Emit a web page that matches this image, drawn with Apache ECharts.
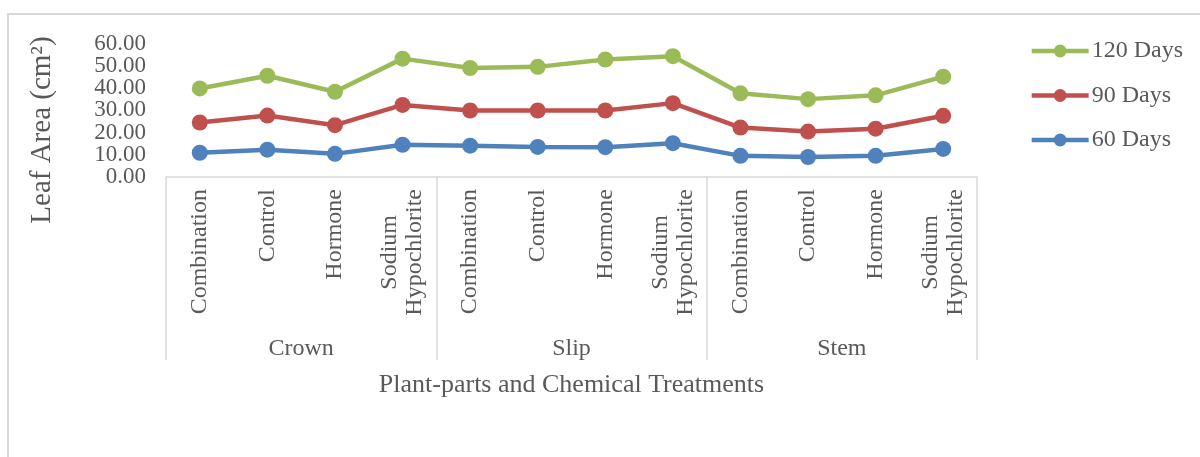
<!DOCTYPE html>
<html>
<head>
<meta charset="utf-8">
<title>Leaf Area</title>
<script src="https://cdn.jsdelivr.net/npm/echarts@6/dist/echarts.min.js"></script>
<style>
  html, body { margin: 0; padding: 0; background: #ffffff; }
  #chart { width: 1200px; height: 457px; }
</style>
</head>
<body>
<div id="chart"></div>
<script>
// Plant parts (outer category level) and chemical treatments (inner level)
const plantParts = ['Crown', 'Slip', 'Stem'];
const treatments = ['Combination', 'Control', 'Hormone', 'Sodium\nHypochlorite'];
const categories = plantParts.flatMap(() => treatments);

// Leaf area (cm²) per treatment, in category order: Crown ×4, Slip ×4, Stem ×4
const days120 = [39.8, 45.5, 38.3, 53.2, 49.0, 49.5, 52.8, 54.3, 37.6, 35.0, 36.7, 45.1];
const days90  = [24.5, 27.6, 23.3, 32.4, 29.9, 29.9, 29.9, 33.2, 22.2, 20.4, 21.7, 27.5];
const days60  = [10.9, 12.3, 10.4, 14.5, 14.1, 13.5, 13.4, 15.2,  9.5,  9.0,  9.5, 12.6];

// Value-axis tick labels, split over two stacked label rows so the
// tightly packed 23px labels are all kept
const yTicksEven = [0, 20, 40, 60];
const yTicksOdd = [10, 30, 50];
const yRange = { min: 0, max: 60 };

const FONT = '"Liberation Serif", "Times New Roman", serif';
const TEXT = '#595959';
const RULE = '#d9d9d9';

const chart = echarts.init(document.getElementById('chart'), null, { renderer: 'canvas' });

function lineSeries(name, data, color) {
  return {
    name: name,
    type: 'line',
    data: data,
    xAxisIndex: 0,
    yAxisIndex: 0,
    symbol: 'circle',
    symbolSize: 16,
    lineStyle: { color: color, width: 4.5 },
    itemStyle: { color: color },
    emphasis: { disabled: true },
    animation: false
  };
}

function valueAxis(ticks) {
  return {
    type: 'value',
    position: 'left',
    offset: 0,
    min: yRange.min,
    max: yRange.max,
    interval: 10,
    axisLine: { show: false },
    axisTick: { show: false },
    splitLine: { show: false },
    axisLabel: {
      margin: 20,
      customValues: ticks,
      hideOverlap: false,
      fontFamily: FONT,
      fontSize: 23,
      color: TEXT,
      formatter: function (v) { return Number(v).toFixed(2); }
    }
  };
}

chart.setOption({
  backgroundColor: '#ffffff',
  animation: false,
  textStyle: { fontFamily: FONT, color: TEXT },
  grid: { left: 166, right: 223, top: 43.5, bottom: 280, containLabel: false },
  legend: {
    orient: 'vertical',
    right: 12,
    top: 34,
    itemWidth: 57,
    itemHeight: 16,
    itemGap: 20.5,
    data: ['120 Days', '90 Days', '60 Days'],
    lineStyle: { width: 4.5 },
    textStyle: { fontFamily: FONT, fontSize: 24, color: TEXT, lineHeight: 22, padding: [0, 0, 0, -2] }
  },
  xAxis: [
    {
      type: 'category',
      position: 'bottom',
      data: categories,
      boundaryGap: true,
      axisLine: { show: true, lineStyle: { color: RULE, width: 1.5 } },
      axisTick: { show: false },
      axisLabel: {
        interval: 0,
        rotate: 90,
        margin: 12,
        color: TEXT,
        formatter: function (v) {
          return v.split('\n').map(function (s) { return '{c|' + s + '}'; }).join('\n');
        },
        rich: { c: { align: 'center', fontFamily: FONT, fontSize: 24, lineHeight: 25, color: TEXT } }
      },
      splitLine: { show: false }
    },
    {
      type: 'category',
      position: 'bottom',
      data: plantParts,
      boundaryGap: true,
      axisLine: { show: false },
      axisTick: { show: true, interval: 0, length: 183, lineStyle: { color: RULE, width: 1.5 } },
      axisLabel: { interval: 0, margin: 160, fontFamily: FONT, fontSize: 24, color: TEXT },
      name: 'Plant-parts and Chemical Treatments',
      nameLocation: 'middle',
      nameGap: 195,
      nameTextStyle: { fontFamily: FONT, fontSize: 26, color: TEXT },
      splitLine: { show: false }
    }
  ],
  yAxis: [valueAxis(yTicksEven), valueAxis(yTicksOdd)],
  graphic: [
    {
      type: 'rect',
      z: -10,
      silent: true,
      shape: { x: 8, y: 14, width: 1260, height: 520 },
      style: { fill: 'none', stroke: RULE, lineWidth: 2 }
    },
    {
      type: 'text',
      x: 42,
      y: 130,
      rotation: Math.PI / 2,
      silent: true,
      style: {
        text: 'Leaf Area (cm²)',
        fill: TEXT,
        font: '29px ' + FONT,
        align: 'center',
        verticalAlign: 'middle'
      }
    }
  ],
  series: [
    lineSeries('120 Days', days120, '#9BBB59'),
    lineSeries('90 Days', days90, '#C0504D'),
    lineSeries('60 Days', days60, '#4F81BD')
  ]
});
</script>
</body>
</html>
